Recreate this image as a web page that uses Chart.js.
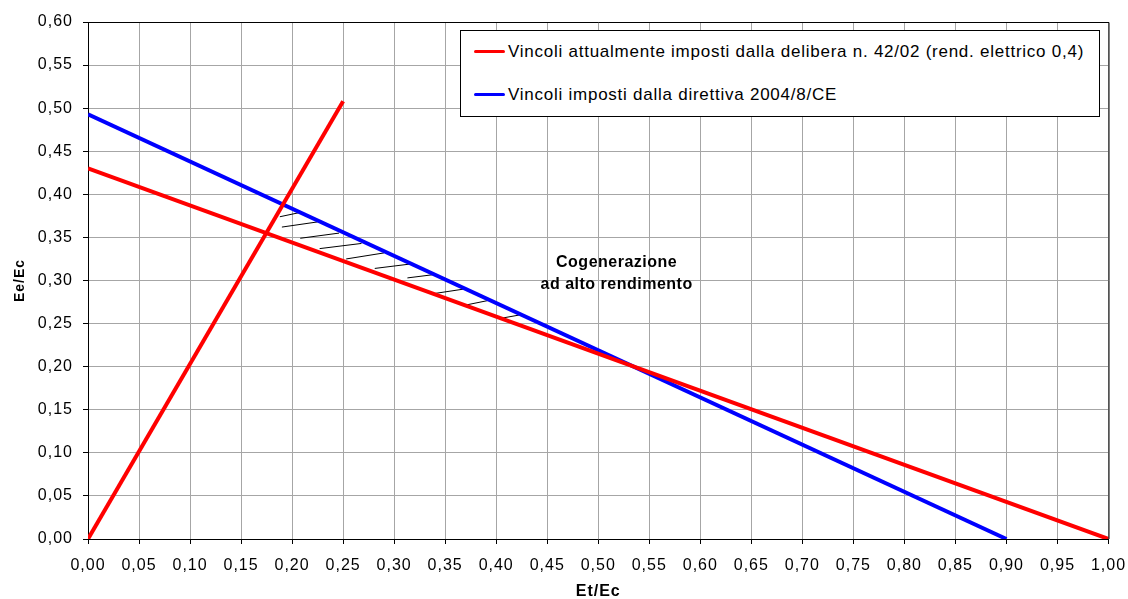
<!DOCTYPE html>
<html>
<head>
<meta charset="utf-8">
<script src="https://cdn.jsdelivr.net/npm/chart.js@4"></script>
<style>
  body { margin: 0; background: #fff; }
  #wrap { position: relative; width: 1128px; height: 599px; }
  #legend {
    position: absolute; left: 460px; top: 30px; width: 638px; height: 85px;
    border: 1px solid #000; background: #fff;
    font-family: "Liberation Sans", Arial, sans-serif; font-size: 17px; letter-spacing: 0.75px; color: #000;
  }
  .item { position: absolute; left: 13px; height: 20px; line-height: 20px; white-space: nowrap; }
  .item span.sw { display: inline-block; width: 31px; height: 3px; border-radius: 2px; vertical-align: middle; margin-right: 3px; position: relative; top: -1px; }
</style>
</head>
<body>
<div id="wrap">
  <canvas id="chart" width="1128" height="599"></canvas>
  <div id="legend">
    <div class="item" style="top:11px"><span class="sw" style="background:#ff0000"></span>Vincoli attualmente imposti dalla delibera n. 42/02 (rend. elettrico 0,4)</div>
    <div class="item" style="top:54px"><span class="sw" style="background:#0000ff"></span>Vincoli imposti dalla direttiva 2004/8/CE</div>
  </div>
</div>
<script>
// tick labels (comma decimals, as in the original)
const xTickLabels = ['0,00','0,05','0,10','0,15','0,20','0,25','0,30','0,35','0,40','0,45','0,50',
  '0,55','0,60','0,65','0,70','0,75','0,80','0,85','0,90','0,95','1,00'];
const yTickLabels = ['0,00','0,05','0,10','0,15','0,20','0,25','0,30','0,35','0,40','0,45','0,50','0,55','0,60'];

// series (Et/Ec, Ee/Ec)
const redRising = [{x: 0, y: 0}, {x: 0.25, y: 0.508}];
const redFalling = [{x: 0, y: 0.43}, {x: 1.0, y: 0}];
const blueLine = [{x: 0, y: 0.493}, {x: 0.90, y: 0}];

// hatch strokes between the red and blue lines
const hatchSegments = [
  [{x: 0.188, y: 0.374}, {x: 0.208, y: 0.379}],
  [{x: 0.190, y: 0.362}, {x: 0.225, y: 0.368}],
  [{x: 0.208, y: 0.349}, {x: 0.246, y: 0.355}],
  [{x: 0.227, y: 0.337}, {x: 0.268, y: 0.343}],
  [{x: 0.253, y: 0.325}, {x: 0.290, y: 0.332}],
  [{x: 0.281, y: 0.314}, {x: 0.315, y: 0.319}],
  [{x: 0.313, y: 0.303}, {x: 0.340, y: 0.307}],
  [{x: 0.340, y: 0.285}, {x: 0.368, y: 0.290}],
  [{x: 0.368, y: 0.271}, {x: 0.393, y: 0.277}],
  [{x: 0.404, y: 0.256}, {x: 0.423, y: 0.260}]
];

const noteLines = ['Cogenerazione', 'ad alto rendimento'];
const noteX = 0.518;
const noteY = [0.321, 0.295];

const FONT = '"Liberation Sans", Arial, sans-serif';

// original text is a bit wider than Liberation Sans
const spacingPlugin = {
  id: 'spacing',
  beforeUpdate(chart) { chart.ctx.letterSpacing = '1px'; },
  beforeDraw(chart) { chart.ctx.letterSpacing = '1px'; }
};

// black frame round the plot + the bold note
const extrasPlugin = {
  id: 'extras',
  afterDatasetsDraw(chart) {
    const ctx = chart.ctx;
    const a = chart.chartArea;
    const xs = chart.scales.x, ys = chart.scales.y;
    ctx.save();
    ctx.strokeStyle = '#000';
    ctx.lineWidth = 1;
    ctx.beginPath();
    ctx.moveTo(a.left, a.top + 0.5);
    ctx.lineTo(a.right + 0.5, a.top + 0.5);
    ctx.lineTo(a.right + 0.5, a.bottom);
    ctx.stroke();

    ctx.letterSpacing = '0.5px';
    ctx.font = 'bold 16px ' + FONT;
    ctx.fillStyle = '#000';
    ctx.textAlign = 'center';
    ctx.textBaseline = 'middle';
    noteLines.forEach((t, i) => {
      ctx.fillText(t, xs.getPixelForValue(noteX), ys.getPixelForValue(noteY[i]));
    });
    ctx.restore();
  }
};

const lineSet = (data, color, width, order) => ({
  data: data, showLine: true, borderColor: color, backgroundColor: color,
  borderWidth: width, pointRadius: 0, order: order
});

const datasets = [
  lineSet(redRising, '#ff0000', 4, 0),
  lineSet(redFalling, '#ff0000', 4, 1),
  lineSet(blueLine, '#0000ff', 4, 2)
];
hatchSegments.forEach(seg => datasets.push(lineSet(seg, '#000000', 1, 3)));

new Chart(document.getElementById('chart'), {
  type: 'scatter',
  data: { datasets: datasets },
  options: {
    responsive: false,
    animation: false,
    layout: { padding: { top: 22, right: 19.5, left: 0, bottom: 0 } },
    plugins: { legend: { display: false }, tooltip: { enabled: false } },
    scales: {
      x: {
        type: 'linear', min: 0, max: 1,
        ticks: {
          stepSize: 0.05, padding: 12, color: '#000', maxRotation: 0, autoSkip: false,
          font: { family: FONT, size: 16 },
          callback: (v, i) => xTickLabels[i]
        },
        grid: { color: '#a6a6a6', tickColor: '#000', tickLength: 5 },
        border: { color: '#000', width: 1 },
        title: { display: true, text: 'Et/Ec', color: '#000',
          font: { family: FONT, size: 16, weight: 'bold', lineHeight: 1 }, padding: { top: 0, bottom: -1 } },
        afterFit(s) { s.height = 60; s.paddingLeft = 0; s.paddingRight = 0; }
      },
      y: {
        type: 'linear', min: 0, max: 0.6,
        ticks: {
          stepSize: 0.05, padding: 10, color: '#000', autoSkip: false,
          font: { family: FONT, size: 16 },
          callback: (v, i) => yTickLabels[i]
        },
        grid: { color: '#a6a6a6', tickColor: '#000', tickLength: 5 },
        border: { color: '#000', width: 1 },
        title: { display: true, text: 'Ee/Ec', color: '#000',
          font: { family: FONT, size: 14, weight: 'bold', lineHeight: 1 }, padding: { top: 13, bottom: 0 } },
        afterFit(s) { s.width = 88; s.paddingTop = 0; s.paddingBottom = 0; }
      }
    }
  },
  plugins: [spacingPlugin, extrasPlugin]
});
</script>
</body>
</html>
